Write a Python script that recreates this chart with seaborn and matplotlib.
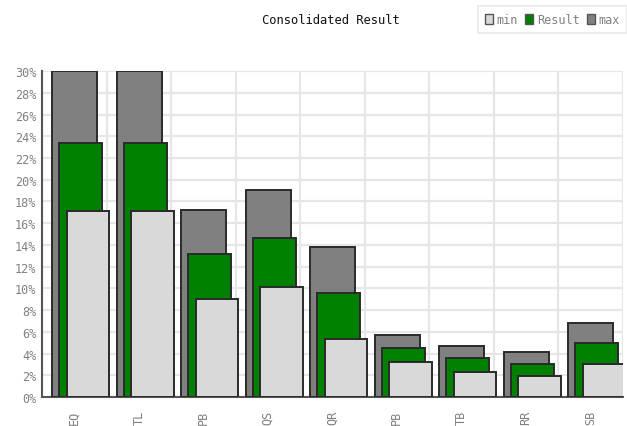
import numpy as np
import pandas as pd
import matplotlib
matplotlib.use("Agg")
import matplotlib.pyplot as plt
import seaborn as sns
from matplotlib.patches import Patch

categories = ["EQ", "TL", "PB", "QS", "QR", "PB", "TB", "RR", "SB"]
max_vals = [30.0, 30.0, 17.2, 19.1, 13.8, 5.7, 4.7, 4.1, 6.8]
result_vals = [23.4, 23.4, 13.2, 14.6, 9.6, 4.5, 3.6, 3.05, 5.0]
min_vals = [17.1, 17.1, 9.05, 10.1, 5.35, 3.25, 2.3, 1.9, 3.05]
y_ticks = list(range(0, 31, 2))

sns.set_theme(style="white")
plt.rcParams['font.family'] = ['DejaVu Sans Mono', 'DejaVu Sans']

fig = plt.figure(figsize=(6.27, 4.27), dpi=100)
ax = fig.add_axes([0.067, 0.068, 0.926, 0.763])

idx = np.arange(len(categories))
series = [
    ("max", max_vals, "#808080", 0.505, 0.70),
    ("Result", result_vals, "#008000", 0.60, 0.67),
    ("min", min_vals, "#d9d9d9", 0.715, 0.66),
]
for name, vals, col, off, w in series:
    df = pd.DataFrame({"x": idx + off, "y": vals})
    sns.barplot(data=df, x="x", y="y", native_scale=True, width=w,
                color=col, edgecolor="#2a2a2a", linewidth=1.4,
                saturation=1, ax=ax, zorder=3, errorbar=None)

ax.set_xlim(0, len(categories))
ax.set_ylim(0, 30)
ax.set_yticks(y_ticks)
ax.set_yticklabels([f"{t}%" for t in y_ticks], color="#808080", fontsize=8.5)
ax.set_xticks(idx + 0.5)
ax.set_xticklabels(categories, rotation=90, color="#808080", fontsize=8.5,
                   va="top")
ax.set_xticks(np.arange(len(categories) + 1), minor=True)
ax.grid(True, which="major", axis="y", color="#e6e6e6", linewidth=1.6, zorder=0)
ax.grid(True, which="minor", axis="x", color="#e6e6e6", linewidth=1.6, zorder=0)
ax.set_axisbelow(True)
ax.tick_params(axis="y", which="both", length=0, pad=4)
ax.tick_params(axis="x", which="both", length=0, pad=9)
ax.set_xlabel("")
ax.set_ylabel("")
for s in ["top", "right"]:
    ax.spines[s].set_visible(False)
for s in ["left", "bottom"]:
    ax.spines[s].set_color("#555555")
    ax.spines[s].set_linewidth(1.5)

fig.text(0.527, 0.952, "Consolidated Result", ha="center", va="center",
         fontsize=8.7, color="#111111")

handles = [Patch(facecolor="#d9d9d9", edgecolor="#555555", label="min"),
           Patch(facecolor="#008000", edgecolor="#555555", label="Result"),
           Patch(facecolor="#808080", edgecolor="#555555", label="max")]
leg = fig.legend(handles=handles, ncol=3, loc="center",
                 bbox_to_anchor=(0.881, 0.952), frameon=True, fontsize=8.5,
                 handlelength=0.7, handleheight=0.9, handletextpad=0.3,
                 columnspacing=0.6, borderpad=0.6, fancybox=False)
leg.get_frame().set_edgecolor("#e3e3e3")
leg.get_frame().set_linewidth(1.2)
for t in leg.get_texts():
    t.set_color("#808080")

fig.savefig("out.png", dpi=100)
